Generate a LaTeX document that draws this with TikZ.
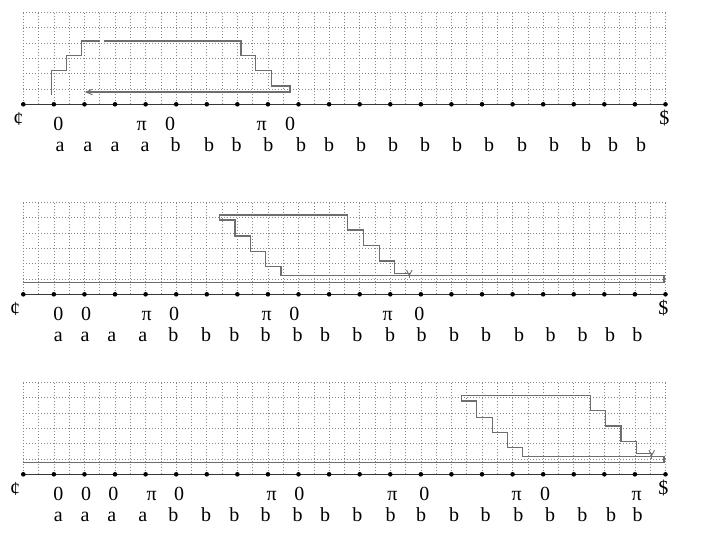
\documentclass[tikz,border=0pt]{standalone}
\usepackage{fontspec}
\setmainfont{Liberation Serif}
\usetikzlibrary{arrows.meta}
\definecolor{pathgray}{RGB}{110,110,110}
\definecolor{gridgray}{RGB}{135,135,135}
\definecolor{axisgray}{RGB}{55,55,55}
\tikzset{
  gridline/.style={gridgray, line width=0.6pt, dash pattern=on 0.9pt off 2.1pt},
  tape/.style={axisgray, line width=0.9pt},
  cell/.style={circle, fill=black, inner sep=0pt, minimum size=4.6pt},
  walk/.style={pathgray, line width=1.2pt, line join=miter},
  lab/.style={anchor=base, inner sep=0pt},
  endmark/.style={anchor=center, inner sep=0pt},
}
\begin{document}
\begin{tikzpicture}[x=1pt,y=-1pt,font=\fontsize{20}{22}\selectfont]
\useasboundingbox (0,0) rectangle (723,533);

% grids, tapes and cells
\foreach \B [count=\p] in {104.3,294.3,474.3} {
  \foreach \i in {0,...,42}
    \draw[gridline] ({23.3+\i*15.29},\B) -- ({23.3+\i*15.29},{\B-92.2});
  \foreach \j in {1,...,6}
    \draw[gridline] (23.3,{\B-\j*15.37}) -- (665.5,{\B-\j*15.37});
  \draw[tape] (23.3,\B) -- (665.5,\B);
  \foreach \k in {0,...,21}
    \node[cell] (d\p-\k) at ({23.3+\k*30.58},\B) {};
}

% end markers
\node[endmark] (c1) at (18.3,118.8) {¢};
\node[endmark] (s1) at (664.3,118.3) {\$};
\node[endmark] (c2) at (15,308.8) {¢};
\node[endmark] (s2) at (663.3,307.8) {\$};
\node[endmark] (c3) at (15,488.8) {¢};
\node[endmark] (s3) at (663.3,488.3) {\$};

% letters
\foreach \x [count=\n] in {60,87.7,115,145,175.7,209,236.7,268.3,301,329,361,393,425,457,489,522,554,586,613,641}
  \node[lab] (la1-\n) at (\x,151.7) {\ifnum\n<5 a\else b\fi};
\foreach \x [count=\n] in {58.3,85,111.7,142.7,173.3,206,234.3,265.7,297.7,325,357.3,390,421.7,454,486,519,550.7,582.7,610,637.3}
  \node[lab] (la2-\n) at (\x,341.5) {\ifnum\n<5 a\else b\fi};
\foreach \x [count=\n] in {58.3,85,111.7,142.7,173.3,206,234.3,265.7,297.7,325,357.3,390.7,421,454,485.7,518.3,550,582.3,611,637.7}
  \node[lab] (la3-\n) at (\x,521.5) {\ifnum\n<5 a\else b\fi};

% marks row
\foreach \x/\t [count=\n] in {58.3/0,141.7/π,170/0,261.7/π,290/0}
  \node[lab] (m1-\n) at (\x,130.8) {\t};
\foreach \x/\t [count=\n] in {58.3/0,86/0,146.7/π,174/0,266.7/π,294.3/0,387.7/π,419.3/0}
  \node[lab] (m2-\n) at (\x,320.6) {\t};
\foreach \x/\t [count=\n] in {58.3/0,86/0,113.3/0,151.7/π,179/0,271.7/π,299.3/0,392.3/π,424.3/0,516.7/π,545/0,636.7/π}
  \node[lab] (m3-\n) at (\x,500.6) {\t};

% walk, top panel
\draw[walk] (51.7,95) -- (51.7,70.7) -- (66.7,70.7) -- (66.7,55.3) -- (81.7,55.3)
  -- (81.7,41) -- (100,41);
\draw[walk] (104,41) -- (241,41) -- (241,55.3) -- (255.7,55.3) -- (255.7,70.7)
  -- (271.7,70.7) -- (271.7,86) -- (290,86) -- (290,92) -- (86,92);
\draw[walk, line width=0.9pt] (92.5,89.2) -- (86,92) -- (92.5,94.8);

% walk, middle panel
\draw[walk] (23.3,282.3) -- (664,282.3) -- (664,275.7) -- (281,275.7) -- (281,266.7)
  -- (265.7,266.7) -- (265.7,251.7) -- (250.7,251.7) -- (250.7,236) -- (235,236)
  -- (235,220) -- (219.3,220) -- (219.3,215) -- (347.3,215) -- (347.3,230)
  -- (363.3,230) -- (363.3,245.7) -- (379.3,245.7) -- (379.3,261) -- (394.3,261)
  -- (394.3,273.3) -- (409.3,273.3);
\draw[walk, line width=0.9pt] (406.5,270) -- (409.3,275.3) -- (412.1,270);
\draw[walk, line width=0.9pt] (409.3,273.3) -- (409.3,277.7);

% walk, bottom panel
\draw[walk] (23.3,462.7) -- (664,462.7) -- (664,456.7) -- (522.7,456.7) -- (522.7,447.3)
  -- (507.7,447.3) -- (507.7,432.3) -- (492.3,432.3) -- (492.3,417.3) -- (476.7,417.3)
  -- (476.7,401) -- (461.7,401) -- (461.7,395.7) -- (590.7,395.7) -- (590.7,410.7)
  -- (605.7,410.7) -- (605.7,426) -- (621,426) -- (621,441.7) -- (636.7,441.7)
  -- (636.7,453.3) -- (651.7,453.3);
\draw[walk, line width=0.9pt] (648.9,450.2) -- (651.7,455.5) -- (654.5,450.2);
\draw[walk, line width=0.9pt] (651.7,453.3) -- (651.7,459);
\end{tikzpicture}
\end{document}
